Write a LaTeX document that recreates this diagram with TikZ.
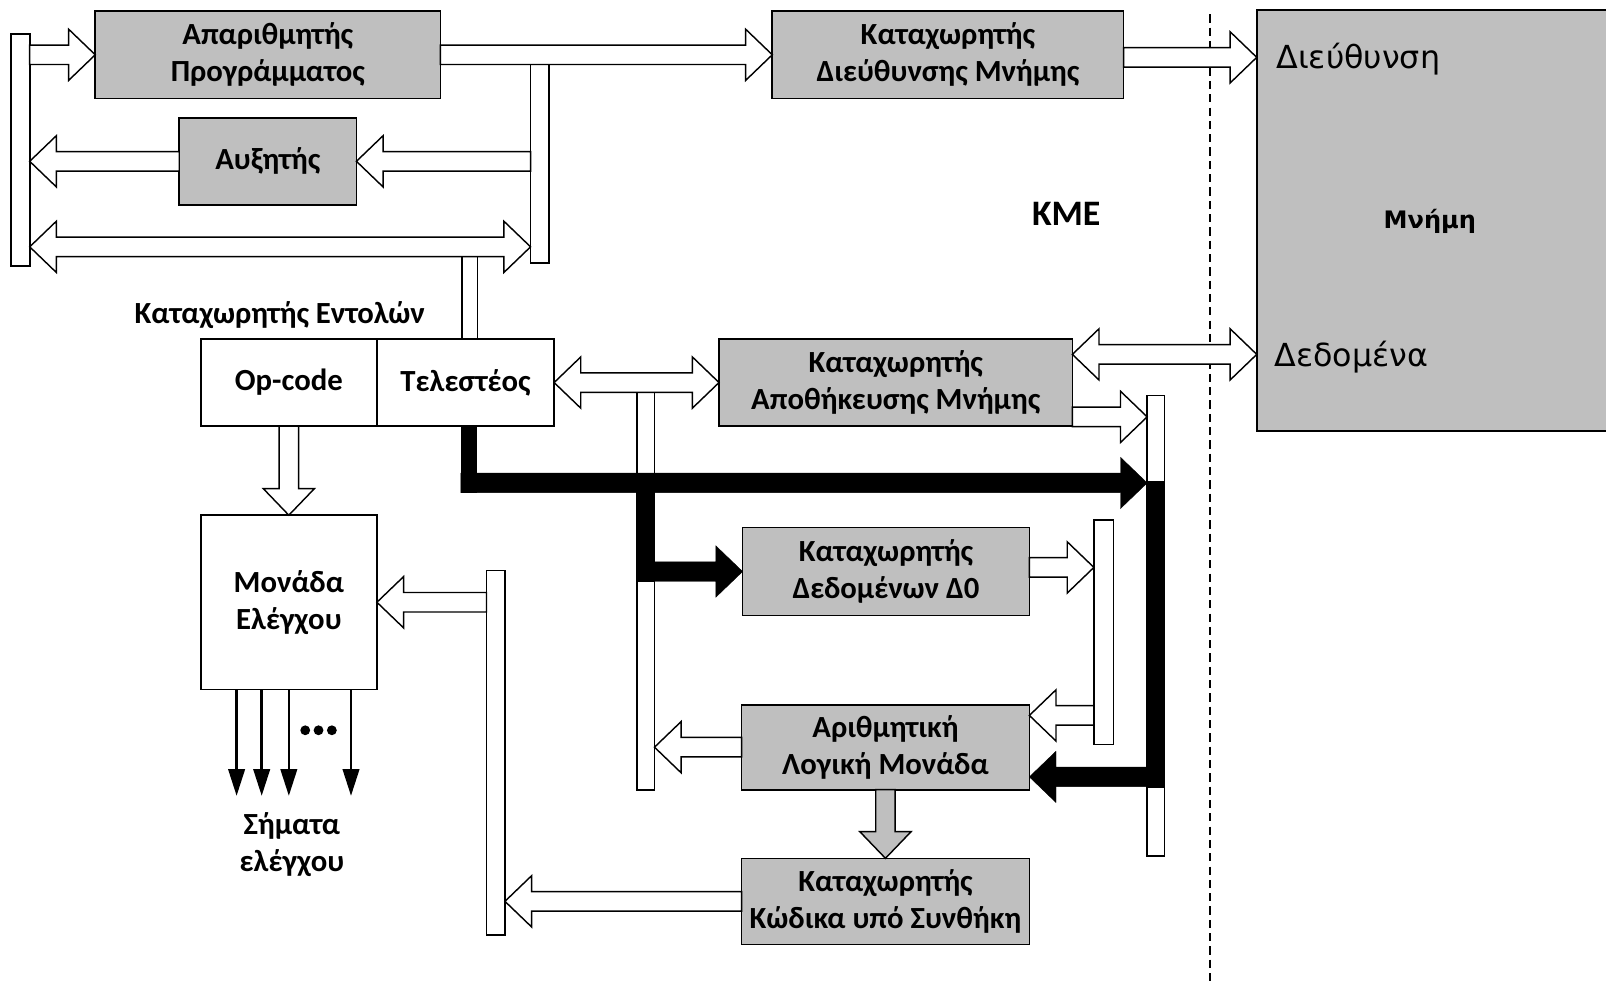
\documentclass[tikz,border=0pt]{standalone}
\usepackage{fontspec}
\setmainfont{Carlito}
\newfontfamily\memfont{DejaVu Sans}
\usetikzlibrary{calc,arrows.meta}
\definecolor{regfill}{RGB}{191,191,191}

% hollow block arrow from #2 to #3 (tip at #3)
\newcommand\blockarrow[3][hollow]{%
  \coordinate (ba-h) at ($(#3)!26pt!(#2)$);
  \draw[#1] ($(#2)!9.5pt!90:(#3)$) -- ($(ba-h)!9.5pt!90:(#3)$) -- ($(ba-h)!25pt!90:(#3)$) -- (#3)
    -- ($(ba-h)!25pt!-90:(#3)$) -- ($(ba-h)!9.5pt!-90:(#3)$) -- ($(#2)!9.5pt!-90:(#3)$) -- cycle;}

% block arrow with heads at both ends
\newcommand\dblarrow[3][hollow]{%
  \coordinate (ba-t) at ($(#2)!26pt!(#3)$);
  \coordinate (ba-h) at ($(#3)!26pt!(#2)$);
  \draw[#1] ($(ba-t)!9.5pt!90:(#3)$) -- ($(ba-h)!9.5pt!90:(#3)$) -- ($(ba-h)!25pt!90:(#3)$) -- (#3)
    -- ($(ba-h)!25pt!-90:(#3)$) -- ($(ba-h)!9.5pt!-90:(#3)$) -- ($(ba-t)!9.5pt!-90:(#3)$)
    -- ($(ba-t)!25pt!-90:(#3)$) -- (#2) -- ($(ba-t)!25pt!90:(#3)$) -- cycle;}

\tikzset{
  reg/.style={draw, line width=1.6pt, fill=regfill, inner sep=0pt, outer sep=0pt, align=center},
  whitebox/.style={reg, fill=white},
  busbar/.style={draw, line width=1.6pt, fill=white, inner sep=0pt, outer sep=0pt},
  hollow/.style={draw, fill=white, line width=1.4pt, line join=miter},
  grayarrow/.style={draw, fill=regfill, line width=1.4pt, line join=miter},
  blackarrow/.style={fill=black, draw=black, line width=0.4pt},
  ctlsig/.style={line width=2.5pt, -{Triangle[length=26pt,width=16pt]}},
}

\begin{document}
\begin{tikzpicture}[x=1pt, y=-1pt,
  every node/.style={font=\bfseries\fontsize{30}{36}\selectfont}]
\useasboundingbox (0,0) rectangle (1568,961);

% bus bars
\node[busbar, minimum width=18pt, minimum height=227pt] (lbar)  at (20,146.5) {};
\node[busbar, minimum width=18pt, minimum height=194pt] (rbar1) at (527,160) {};
\node[busbar, minimum width=17pt, minimum height=388pt] (chbar) at (630.5,577) {};
\node[busbar, minimum width=17pt, minimum height=450pt] (rbar2) at (1128.5,611) {};
\node[busbar, minimum width=19pt, minimum height=219pt] (sbar)  at (1077.5,617.5) {};
\node[busbar, minimum width=18pt, minimum height=356pt] (cbar)  at (484,735) {};

% registers and units
\node[reg, minimum width=337pt, minimum height=85pt] (pc)  at (261.5,53.5) {Απαριθμητής\\Προγράμματος};
\node[reg, minimum width=343pt, minimum height=85pt] (mar) at (925.5,53.5) {Καταχωρητής\\Διεύθυνσης Μνήμης};
\node[reg, minimum width=173pt, minimum height=85pt] (inc) at (261.5,157.5) {Αυξητής};
\node[whitebox, minimum width=172pt, minimum height=85pt] (opc) at (282,373.5) {Op-code};
\node[whitebox, minimum width=173pt, minimum height=85pt] (opr) at (454.5,373.5) {Τελεστέος};
\node (irlabel) at (273,308) {Καταχωρητής Εντολών};
\node[reg, minimum width=345pt, minimum height=85pt] (mdr) at (874.5,373.5) {Καταχωρητής\\Αποθήκευσης Μνήμης};
\node[reg, minimum width=280pt, minimum height=86pt] (d0)  at (865,558) {Καταχωρητής\\Δεδομένων Δ0};
\node[reg, minimum width=281pt, minimum height=83pt] (alu) at (864.5,729.5) {Αριθμητική\\Λογική Μονάδα};
\node[reg, minimum width=281pt, minimum height=84pt] (ccr) at (864.5,880) {Καταχωρητής\\Κώδικα υπό Συνθήκη};
\node[whitebox, minimum width=172pt, minimum height=170pt] (cu) at (282,588) {Μονάδα\\Ελέγχου};
\node[align=center] (sig) at (285,825) {Σήματα\\ελέγχου};
\node[font=\bfseries\fontsize{35}{40}\selectfont] (cpu) at (1041,209) {ΚΜΕ};

% memory
\node[reg, minimum width=343pt, minimum height=411pt] (mem) at (1398.5,215.5) {};
\node[font=\memfont\bfseries\fontsize{23.5}{28}\selectfont] (memname) at (1396,216) {Μνήμη};
\node[anchor=base west, inner sep=0pt, font=\memfont\fontsize{31}{37}\selectfont] (addr) at (1246,67) {Διεύθυνση};
\node[anchor=base west, inner sep=0pt, font=\memfont\fontsize{31}{37}\selectfont] (data) at (1244,358) {Δεδομένα};

% boundary of the CPU
\draw[dash pattern=on 8pt off 5pt, line width=1.3pt] (1181.5,14) -- (1181.5,965);

% helper points on the buses
\coordinate (pcIn)    at (lbar.east |- pc.west);
\coordinate (marOut)  at ($(mar.east)+(0,2.5)$);
\coordinate (memAddr) at (marOut -| mem.west);
\coordinate (incIn)   at (inc.east -| rbar1.west);
\coordinate (incOut)  at (inc.west -| lbar.east);
\coordinate (busL)    at ($(lbar.east)+(0,94.5)$);
\coordinate (busR)    at (busL -| rbar1.west);
\coordinate (mdrMem)  at ($(mdr.east)+(0,-27.5)$);
\coordinate (memData) at (mdrMem -| mem.west);
\coordinate (mdrOut)  at ($(mdr.east)+(0,33.5)$);
\coordinate (rb2In)   at (mdrOut -| rbar2.west);
\coordinate (d0Out)   at ($(d0.east)+(0,-4)$);
\coordinate (sbIn)    at (d0Out -| sbar.west);
\coordinate (aluIn)   at ($(alu.east)+(0,-31)$);
\coordinate (sbOut)   at (aluIn -| sbar.west);
\coordinate (chIn)    at (alu.west -| chbar.east);
\coordinate (cbIn)    at (ccr.west -| cbar.east);
\coordinate (cbOut)   at (cu.east -| cbar.west);

% data paths
\blockarrow{pcIn}{pc.west}
\blockarrow{pc.east}{mar.west}
\blockarrow{marOut}{memAddr}
\blockarrow{incIn}{inc.east}
\blockarrow{inc.west}{incOut}
\dblarrow{busL}{busR}
\dblarrow{opr.east}{mdr.west}
\dblarrow{mdrMem}{memData}
\blockarrow{mdrOut}{rb2In}
\blockarrow{d0Out}{sbIn}
\blockarrow{sbOut}{aluIn}
\blockarrow{alu.west}{chIn}
\blockarrow{ccr.west}{cbIn}
\blockarrow{cbOut}{cu.east}
\blockarrow{opc.south}{cu.north}
\blockarrow[grayarrow]{alu.south}{ccr.north}

% link from the bus down to the instruction register
\draw[line width=1.4pt] ($(opr.north)+(-3.5,0)$) -- ++(0,-80.5)
                        ($(opr.north)+(11.5,0)$) -- ++(0,-80.5);

% operand path (black)
\coordinate (kTop) at ($(opr.south)+(3.5,0)$);
\coordinate (kRow) at ($(kTop)+(-8,55.5)$);
\coordinate (kTip) at (kRow -| rbar2.west);
\fill ($(kTop)+(-8,0)$) rectangle ($(kTop)+(8,65)$);
\blockarrow[blackarrow]{kRow}{kTip}
\fill ($(chbar.north west)+(0,79)$) rectangle ($(chbar.north east)+(0,185)$);
\coordinate (kBr) at ($(chbar.west)+(0,-19)$);
\coordinate (d0In) at (kBr -| d0.west);
\blockarrow[blackarrow]{kBr}{d0In}
\fill ($(rbar2.north west)+(0,84)$) rectangle ($(rbar2.north east)+(0,383)$);
\coordinate (kAlu) at ($(alu.east)+(0,29)$);
\coordinate (kFrom) at (kAlu -| rbar2.east);
\blockarrow[blackarrow]{kFrom}{kAlu}

% control signals
\foreach \dx in {35,59.5,86,146.7}
  \draw[ctlsig] ($(cu.south west)+(\dx,0)$) -- ++(0,104);
\foreach \cx in {298,311,324}
  \fill (\cx,713) circle (4.8);
\end{tikzpicture}
\end{document}
